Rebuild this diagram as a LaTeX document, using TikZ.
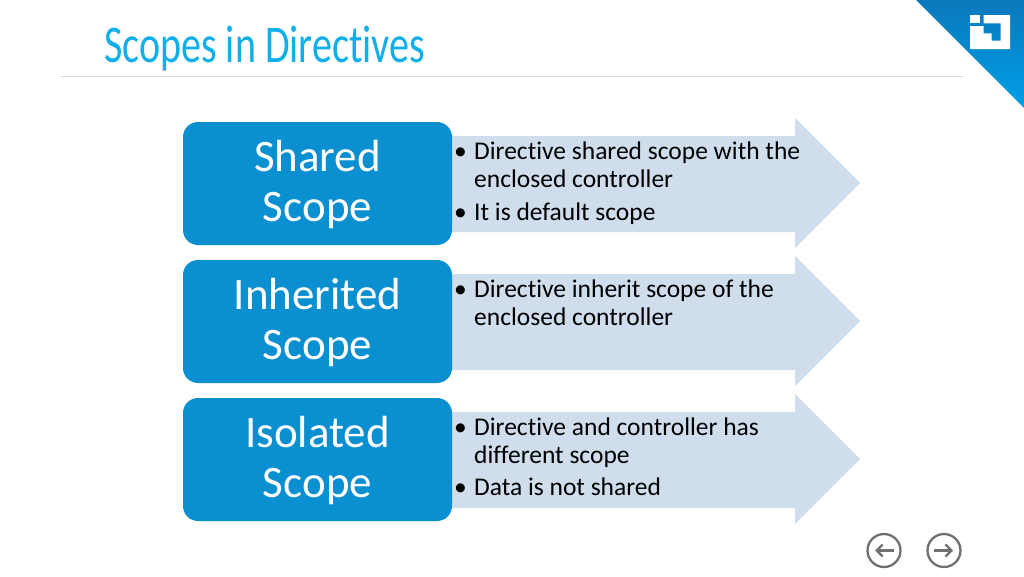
\documentclass[tikz,border=0pt]{standalone}
\usepackage{fontspec}
\setmainfont{Carlito}[Ligatures=NoCommon]
\newfontfamily\titlefont[FakeStretch=0.755,Ligatures=NoCommon]{Carlito}
\usetikzlibrary{arrows.meta}
\definecolor{boxblue}{HTML}{0A8FD0}
\definecolor{arrowfill}{HTML}{CFDDEC}
\definecolor{titleblue}{HTML}{10AEEA}
\definecolor{cornertop}{HTML}{0B78BC}
\definecolor{cornerbot}{HTML}{009FE8}
\definecolor{navgray}{HTML}{707070}
\tikzset{
  x=1pt,y=-1pt,
  scopebox/.style={fill=boxblue,rounded corners=15pt,draw=none},
  scopelabel/.style={text=white,font=\fontsize{45}{50}\selectfont,align=center,inner sep=0pt,text width=260pt},
  panelarrow/.style={fill=arrowfill,draw=none},
  itemtext/.style={anchor=base west,inner sep=0pt,font=\fontsize{25.5}{28}\selectfont,text=black},
  navring/.style={circle,draw=navgray,line width=2.3pt,minimum size=33pt,inner sep=0pt},
  navarrow/.style={draw=navgray,line width=2.3pt,-{Straight Barb[length=6pt,width=12pt]}},
}
\begin{document}
\begin{tikzpicture}
\useasboundingbox (0,0) rectangle (1024,576);
\fill[white] (0,0) rectangle (1024,576);
% header
\node[anchor=base west,inner sep=0pt,text=titleblue,font=\fontsize{53}{56}\selectfont\titlefont] (title) at (104,62) {Scopes in Directives};
\coordinate (ruleL) at (61,76.5);
\coordinate (ruleR) at (963,76.5);
\draw[draw=black!15,line width=1pt] (ruleL) -- (ruleR);
% corner
\shade[top color=cornertop,bottom color=cornerbot] (916,0) -- (1024,0) -- (1024,108) -- cycle;
\fill[white] (970,15) rectangle (979.5,22.5);
\fill[white] (970,26) -- (983.5,26) -- (983.5,33.3) -- (991.7,33.3) -- (991.7,40.7) -- (1000.7,40.7) -- (1000.7,23.3) -- (983.5,23.3) -- (983.5,15) -- (1010,15) -- (1010,49) -- (970,49) -- cycle;
% panels
\fill[panelarrow] (452,136) -- (795,136) -- (795,118) -- (860,183) -- (795,248) -- (795,232) -- (452,232) -- cycle;
\fill[panelarrow] (452,274) -- (795,274) -- (795,256) -- (860,321) -- (795,386) -- (795,370) -- (452,370) -- cycle;
\fill[panelarrow] (452,412) -- (795,412) -- (795,394) -- (860,459) -- (795,524) -- (795,508) -- (452,508) -- cycle;
\fill[scopebox] (183,122) rectangle (452,245);
\fill[scopebox] (183,260) rectangle (452,383);
\fill[scopebox] (183,398) rectangle (452,521);
\node[scopelabel] (s1a) at (317.5,184.5) {Shared\\Scope};
\node[scopelabel] (s2a) at (317.5,322.5) {Inherited\\Scope};
\node[scopelabel] (s3a) at (317.5,460.5) {Isolated\\Scope};
% text
\node[itemtext] (b1) at (454,159) {•};
\node[itemtext] (t1) at (474,159) {Directive shared scope with the};
\node[itemtext] (t2) at (474,187) {enclosed controller};
\node[itemtext] (b2) at (454,220) {•};
\node[itemtext] (t3) at (474,220) {It is default scope};
\node[itemtext] (b3) at (454,297) {•};
\node[itemtext] (t4) at (474,297) {Directive inherit scope of the};
\node[itemtext] (t5) at (474,325) {enclosed controller};
\node[itemtext] (b4) at (454,435) {•};
\node[itemtext] (t6) at (474,435) {Directive and controller has};
\node[itemtext] (t7) at (474,463) {different scope};
\node[itemtext] (b5) at (454,495) {•};
\node[itemtext] (t8) at (474,495) {Data is not shared};
% nav
\node[navring] (prev) at (884,550.5) {};
\node[navring] (next) at (944,550.5) {};
\coordinate (pa) at (894,550.5); \coordinate (pb) at (875,550.5);
\coordinate (na) at (934,550.5); \coordinate (nb) at (953,550.5);
\draw[navarrow] (pa) -- (pb);
\draw[navarrow] (na) -- (nb);
\end{tikzpicture}
\end{document}
